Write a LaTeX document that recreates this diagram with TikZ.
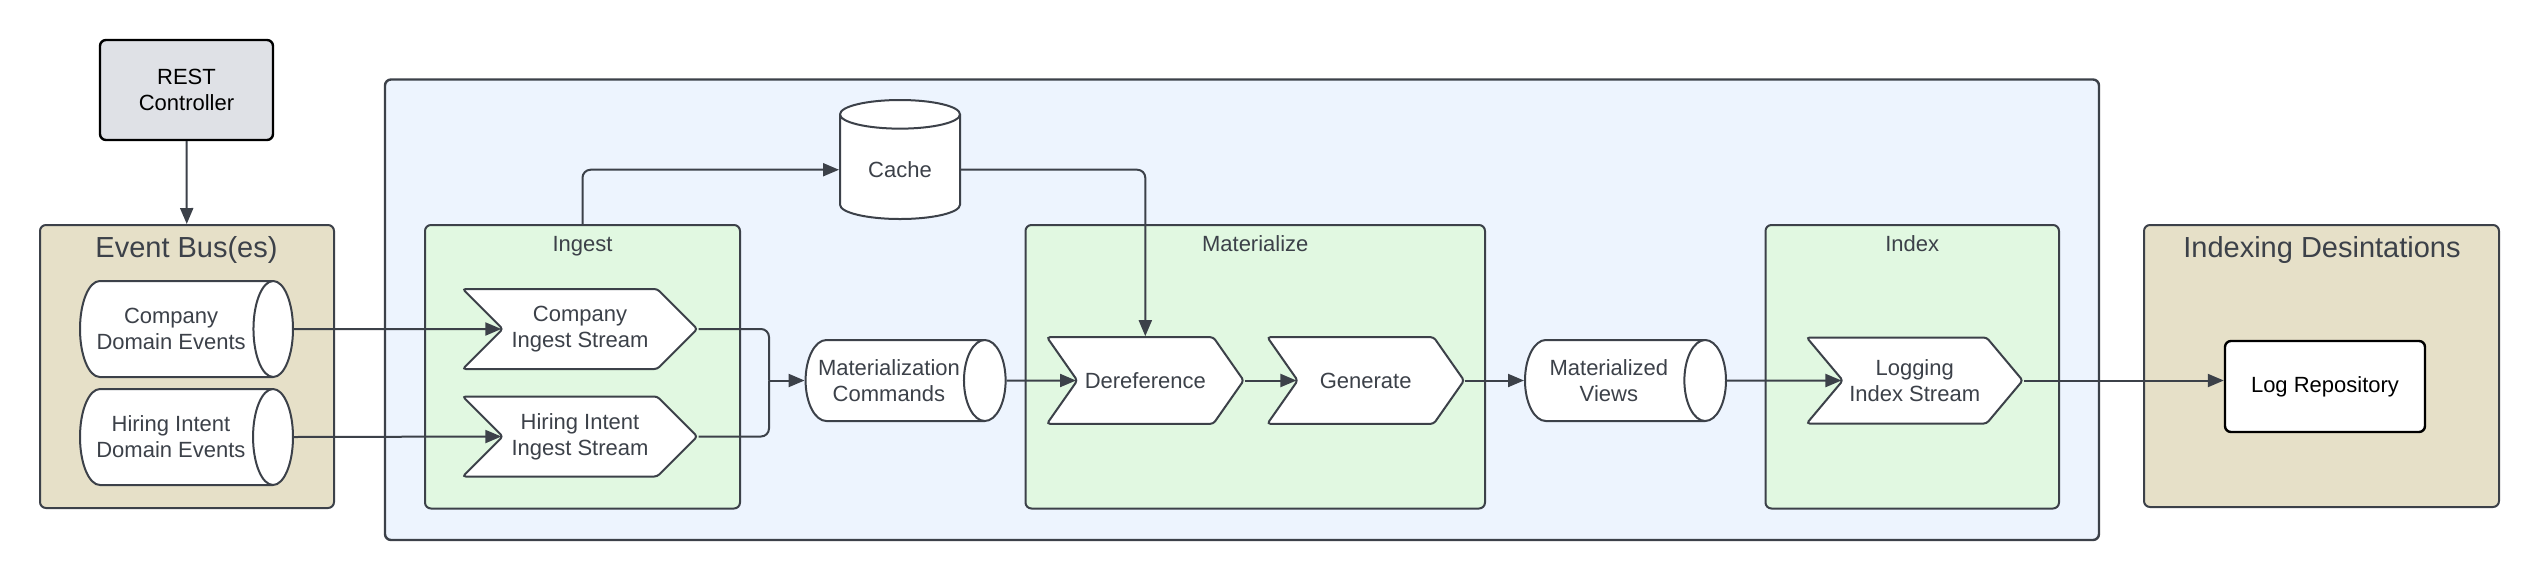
\documentclass[tikz,border=0pt]{standalone}
\usepackage{fontspec}
\setmainfont{Liberation Sans}
\usetikzlibrary{shapes.geometric, shapes.symbols, arrows.meta}
\definecolor{ink}{HTML}{3C4149}
\definecolor{busfill}{HTML}{E6E0C8}
\definecolor{corefill}{HTML}{EDF4FE}
\definecolor{stagefill}{HTML}{E1F8E1}
\definecolor{restfill}{HTML}{DFE1E6}
\begin{document}
\begin{tikzpicture}[x=0.5pt, y=-0.5pt,
	every node/.style={font=\fontsize{11}{13}\selectfont, text=ink, align=center},
	bus/.style={draw=ink, line width=1pt, rounded corners=3pt, fill=busfill},
	core/.style={draw=ink, line width=1.2pt, rounded corners=3pt, fill=corefill},
	stage/.style={draw=ink, line width=1pt, rounded corners=3pt, fill=stagefill},
	ttl/.style={anchor=base, inner sep=0pt},
	bigttl/.style={anchor=base, inner sep=0pt, font=\fontsize{14.5}{17}\selectfont},
	topic/.style={cylinder, draw=ink, line width=1pt, fill=white, aspect=0.72, inner xsep=2pt, anchor=shape center},
	stream/.style={signal, signal to=east, signal from=west, signal pointer angle=90, draw=ink, line width=1pt, fill=white, rounded corners=1.5pt, inner xsep=2pt},
	box/.style={draw, line width=1.2pt, rounded corners=3pt, text=black},
	conn/.style={draw=ink, line width=1pt},
	arr/.style={conn, -{Triangle[length=8pt, width=6.5pt]}}]
	\useasboundingbox (0,0) rectangle (2540,580);
	% containers
	\node[core, minimum width=857pt, minimum height=230.25pt] (core) at (1242,309.75) {};
	\node[bus, minimum width=147pt, minimum height=141.5pt] (evbus) at (187,366.5) {};
	\node[bus, minimum width=177.5pt, minimum height=141pt] (dest) at (2321.5,366) {};
	\node[stage, minimum width=157.5pt, minimum height=141.75pt] (ingest) at (582.5,366.75) {};
	\node[stage, minimum width=229.75pt, minimum height=141.75pt] (materialize) at (1255.25,366.75) {};
	\node[stage, minimum width=146.75pt, minimum height=141.75pt] (index) at (1912.25,366.75) {};
	\node[bigttl] (evbusttl) at (186.5,257.5) {Event Bus(es)};
	\node[bigttl] (destttl) at (2322,257.5) {Indexing Desintations};
	\node[ttl] (ingestttl) at (582.5,251.5) {Ingest};
	\node[ttl] (materializettl) at (1255.25,251.5) {Materialize};
	\node[ttl] (indexttl) at (1912.25,251.5) {Index};
	% nodes (cylinder: minimum height runs along the axis)
	\node[box, fill=restfill, minimum width=86.5pt, minimum height=50pt] (rest) at (186.5,90) {REST\\Controller};
	\node[topic, minimum height=106.5pt, minimum width=48pt] (cde) at (186.5,329) {Company\\Domain Events};
	\node[topic, minimum height=106.5pt, minimum width=48pt] (hde) at (186.5,437) {Hiring Intent\\Domain Events};
	\node[stream, minimum width=117.25pt, minimum height=40pt] (cis) at (580,329) {Company\\Ingest Stream};
	\node[stream, minimum width=117.25pt, minimum height=40pt] (his) at (580,436.5) {Hiring Intent\\Ingest Stream};
	\node[topic, shape border rotate=90, aspect=0.4, minimum width=60pt, minimum height=59.5pt] (cache) at (900,159.5) {Cache};
	\node[topic, aspect=0.75, minimum height=100pt, minimum width=40.5pt, inner xsep=0pt] (matcmd) at (905.6,380.5) {Materialization\\Commands};
	\node[stream, signal pointer angle=110, minimum width=98.35pt, minimum height=43.3pt] (deref) at (1145.3,380.5) {Dereference};
	\node[stream, signal pointer angle=110, minimum width=98.35pt, minimum height=43.3pt] (gen) at (1365.7,380.5) {Generate};
	\node[topic, aspect=0.75, minimum height=100.5pt, minimum width=40.5pt] (matview) at (1625.5,380.5) {Materialized\\Views};
	\node[stream, signal pointer angle=100, minimum width=108pt, minimum height=43pt] (logidx) at (1914.7,380.5) {Logging\\Index Stream};
	\node[box, fill=white, minimum width=100pt, minimum height=45.5pt] (logrepo) at (2325,386.5) {Log Repository};
	\coordinate (merge) at (769,380.5);
	% connectors
	\draw[arr] (rest) -- (evbus);
	\draw[arr] (cde.east) -- (cis.west);
	\draw[arr] (hde.east) -- (his.west);
	\draw[conn, rounded corners=4pt] (cis.east) -| (merge);
	\draw[conn, rounded corners=4pt] (his.east) -| (merge);
	\draw[arr] (merge) -- (matcmd.west);
	\draw[arr, rounded corners=4pt] (ingest.north) |- (cache.west);
	\draw[arr, rounded corners=4pt] (cache.east) -| (deref.north);
	\draw[arr] (matcmd.east) -- (deref.west);
	\draw[arr] (deref.east) -- (gen.west);
	\draw[arr] (gen.east) -- (matview.west);
	\draw[arr] (matview.east) -- (logidx.west);
	\draw[arr] (logidx.east) -- (logidx.east -| logrepo.west);
\end{tikzpicture}
\end{document}
